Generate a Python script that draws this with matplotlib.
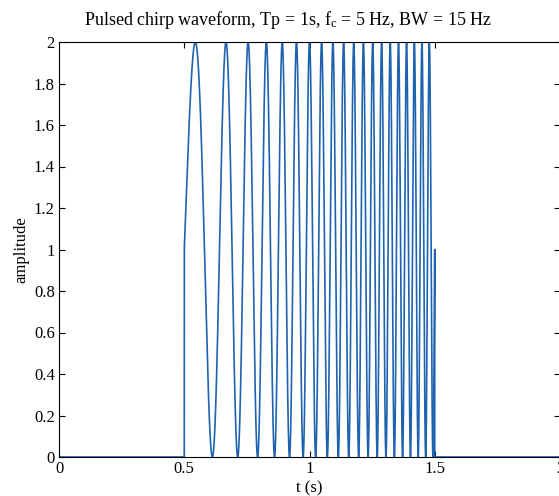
import numpy as np
import matplotlib.pyplot as plt

plt.rcParams['font.family'] = ['Liberation Serif', 'DejaVu Serif']
plt.rcParams['mathtext.fontset'] = 'custom'
plt.rcParams['mathtext.rm'] = 'Liberation Serif'
plt.rcParams['mathtext.it'] = 'Liberation Serif'

# pulse parameters (from the title)
tp = 1.0       # pulse length, s
fc = 5.0       # start frequency, Hz
bw = 15.0      # bandwidth, Hz
t_on = 0.5     # pulse start, s
t_end = 2.0    # window length, s

x_ticks = [0, 0.5, 1, 1.5, 2]
x_labels = ['0', '0.5', '1', '1.5', '2']
y_ticks = [0, 0.2, 0.4, 0.6, 0.8, 1, 1.2, 1.4, 1.6, 1.8, 2]
y_labels = ['0', '0.2', '0.4', '0.6', '0.8', '1', '1.2', '1.4', '1.6', '1.8', '2']

# waveform: offset chirp inside the pulse, zero outside
t = np.linspace(0, t_end, 20001)
tau = t - t_on
inside = (tau >= 0) & (tau <= tp)
y = np.where(inside, 1 + np.sin(2 * np.pi * (fc * tau + bw * tau ** 2 / tp)), 0.0)
# force the vertical edges at pulse start and end
t = np.concatenate([t[t < t_on], [t_on], t[inside], [t_on + tp], t[t > t_on + tp]])
y = np.concatenate([np.zeros((t < t_on).sum()), [0.0],
                    y[inside], [0.0], np.zeros((t > t_on + tp).sum())])

fig = plt.figure(figsize=(5.59, 4.96), dpi=100)
ax = fig.add_axes([59 / 559, 39 / 496, 501 / 559, 415 / 496])
ax.plot(t, y, color='#1f62b0', linewidth=1.2)

ax.set_xlim(0, 2)
ax.set_ylim(0, 2)
ax.set_xticks(x_ticks)
ax.set_xticklabels(x_labels)
ax.set_yticks(y_ticks)
ax.set_yticklabels(y_labels)
ax.tick_params(direction='in', top=True, right=True, labelsize=12, length=4, pad=3)
for s in ax.spines.values():
    s.set_linewidth(0.8)

ax.set_xlabel('t (s)', fontsize=12, labelpad=2)
ax.set_ylabel('amplitude', fontsize=12, labelpad=3)
ax.set_title(r'Pulsed chirp waveform, Tp = 1s, f$_\mathrm{c}$ = 5 Hz, BW = 15 Hz',
             fontsize=13, pad=12, x=0.458)

fig.savefig('out.png', dpi=100)
